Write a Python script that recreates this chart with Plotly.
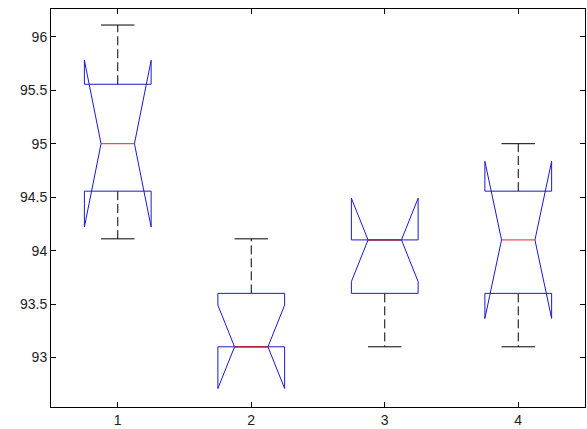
import plotly.graph_objects as go

# values
groups = [1, 2, 3, 4]
lower_whisker = [94.11, 93.1, 93.1, 93.1]
q1 = [94.556, 93.1, 93.6, 93.6]
median = [95.0, 93.1, 94.1, 94.1]
q3 = [95.556, 93.6, 94.1, 94.556]
upper_whisker = [96.11, 94.11, 94.1, 95.0]
notch_lo = [94.22, 92.71, 93.71, 93.365]
notch_hi = [95.78, 93.49, 94.49, 94.835]
tick_vals = [93, 93.5, 94, 94.5, 95, 95.5, 96]
tick_text = ['93', '93.5', '94', '94.5', '95', '95.5', '96']

w = 0.25  # half width of box

wx, wy, cx, cy, bx, by, mx, my = [], [], [], [], [], [], [], []
for i, g in enumerate(groups):
    # whiskers
    wx += [g, g, None, g, g, None]
    wy += [q3[i], upper_whisker[i], None, q1[i], lower_whisker[i], None]
    # caps
    cx += [g - w / 2, g + w / 2, None, g - w / 2, g + w / 2, None]
    cy += [upper_whisker[i], upper_whisker[i], None, lower_whisker[i], lower_whisker[i], None]
    # notched box outline
    bx += [g - w, g - w, g - w / 2, g - w, g - w, g + w, g + w, g + w / 2, g + w, g + w, g - w, None]
    by += [q1[i], notch_lo[i], median[i], notch_hi[i], q3[i], q3[i], notch_hi[i], median[i],
           notch_lo[i], q1[i], q1[i], None]
    # median
    mx += [g - w / 2, g + w / 2, None]
    my += [median[i], median[i], None]

fig = go.Figure()
fig.add_trace(go.Scatter(x=wx, y=wy, mode='lines',
                         line=dict(color='black', width=1, dash='9px,4px')))
fig.add_trace(go.Scatter(x=cx, y=cy, mode='lines', line=dict(color='black', width=1)))
fig.add_trace(go.Scatter(x=bx, y=by, mode='lines', line=dict(color='#1a1acc', width=1)))
fig.add_trace(go.Scatter(x=mx, y=my, mode='lines', line=dict(color='#f01e28', width=1)))

axis_style = dict(showline=True, linecolor='black', linewidth=1, mirror='ticks',
                  ticks='inside', ticklen=5, tickcolor='black', showgrid=False,
                  zeroline=False, tickfont=dict(family='Liberation Sans', size=14, color='#222'))

fig.update_xaxes(range=[0.5, 4.5], tickvals=groups, ticktext=[str(g) for g in groups],
                 **axis_style)
fig.update_yaxes(range=[92.537, 96.26], tickvals=tick_vals, ticktext=tick_text, **axis_style)

fig.update_layout(
    width=587, height=429,
    margin=dict(l=51, r=1, t=9, b=20),
    paper_bgcolor='white', plot_bgcolor='white',
    showlegend=False)

# drop the page's default body margin so the figure sits at the window corner
fig.write_html("out.html", config={'displayModeBar': False},
               post_script="document.body.style.margin='0';document.body.style.overflow='hidden';")
